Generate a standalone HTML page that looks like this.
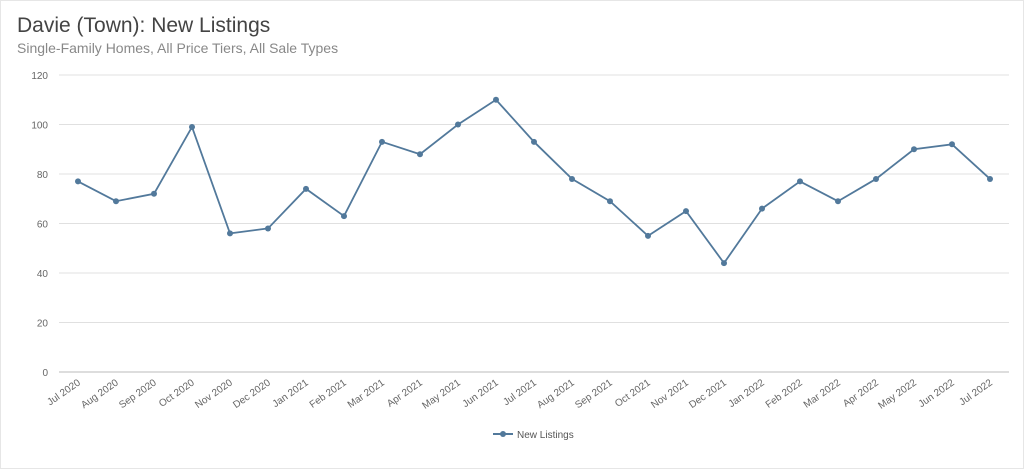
<!DOCTYPE html>
<html><head><meta charset="utf-8"><style>
body{margin:0;background:#fff;font-family:"Liberation Sans",sans-serif;}
#wrap{position:relative;width:1024px;height:469px;overflow:hidden;border:1px solid #e6e6e6;box-sizing:border-box;}
#title{position:absolute;left:16px;top:13px;font-size:21px;color:#444;}
#sub{position:absolute;left:16px;top:39px;font-size:14px;color:#888;}
</style></head><body>
<div id="wrap">
<div id="title">Davie (Town): New Listings</div>
<div id="sub">Single-Family Homes, All Price Tiers, All Sale Types</div>
<svg id="svg" width="1024" height="469" style="position:absolute;left:0;top:0"></svg>
</div>
<script>
const categories=["Jul 2020","Aug 2020","Sep 2020","Oct 2020","Nov 2020","Dec 2020","Jan 2021","Feb 2021","Mar 2021","Apr 2021","May 2021","Jun 2021","Jul 2021","Aug 2021","Sep 2021","Oct 2021","Nov 2021","Dec 2021","Jan 2022","Feb 2022","Mar 2022","Apr 2022","May 2022","Jun 2022","Jul 2022"];
const newListings=[77,69,72,99,56,58,74,63,93,88,100,110,93,78,69,55,65,44,66,77,69,78,90,92,78];
const yTicks=[0,20,40,60,80,100,120];
const NS="http://www.w3.org/2000/svg";
const svg=document.getElementById('svg');
const x0=77,x1=989,yTop=74,yBot=371,yMax=120;
const xs=i=>x0+(x1-x0)*i/(categories.length-1);
const ys=v=>yBot-(yBot-yTop)*v/yMax;
function mk(t,a){const e=document.createElementNS(NS,t);for(const k in a)e.setAttribute(k,a[k]);svg.appendChild(e);return e;}
yTicks.forEach(t=>{
 const l=mk('line',{x1:58,x2:1008,y1:ys(t),y2:ys(t),stroke:t===0?'#bbb':'#e0e0e0','stroke-width':1});
 
 
 const tx=mk('text',{x:47,y:ys(t)+4,'text-anchor':'end','font-size':10,fill:'#666'});
 tx.textContent=t;
 
 
});
categories.forEach((c,i)=>{
 const x=xs(i),y=383;
 const tx=mk('text',{x:x+3,y:y,'text-anchor':'end','font-size':10,fill:'#666',transform:`rotate(-35 ${x+3} ${y})`});
 tx.textContent=c;
 
 
});
const p=mk('polyline',{points:newListings.map((v,i)=>xs(i)+','+ys(v)).join(' '),fill:'none',stroke:'#52799b','stroke-width':1.8});


newListings.forEach((v,i)=>{
 const c=mk('circle',{cx:xs(i),cy:ys(v),r:3,fill:'#52799b'});
 
 
});
const lg=mk('line',{x1:492,x2:512,y1:433,y2:433,stroke:'#52799b','stroke-width':2});


const lc=mk('circle',{cx:502,cy:433,r:3,fill:'#52799b'});


const lt=mk('text',{x:516,y:437,'font-size':10,fill:'#555'});
lt.textContent='New Listings';


</script>
</body></html>
